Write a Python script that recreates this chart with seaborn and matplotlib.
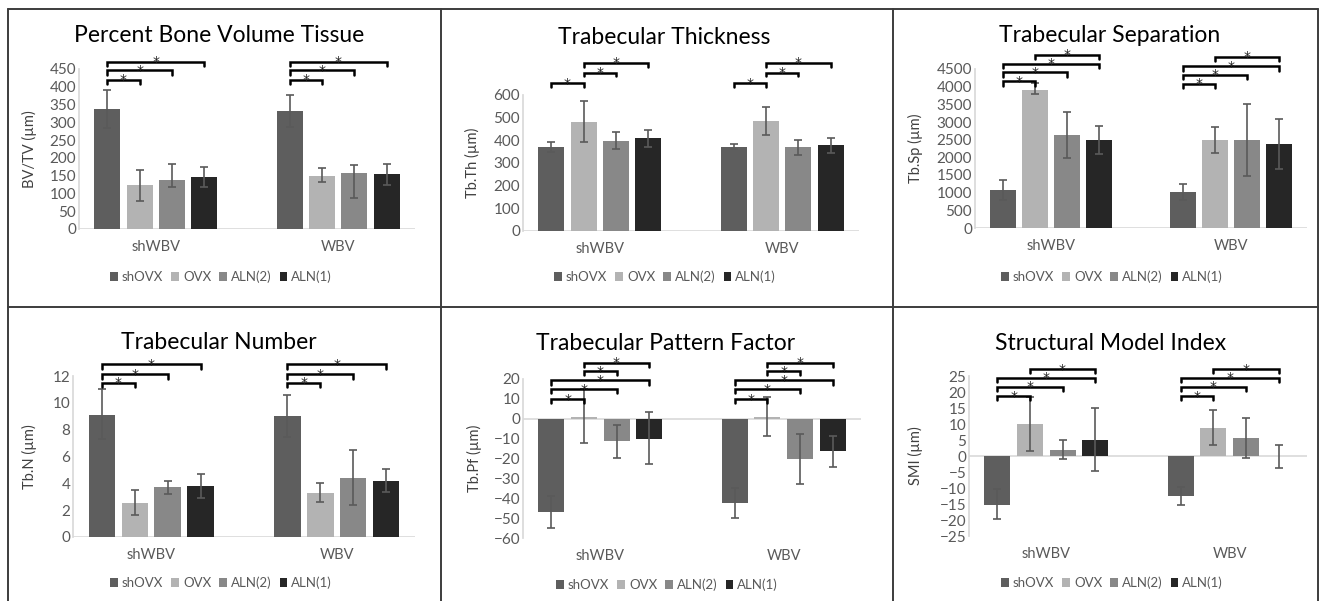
"""
Micro-CT trabecular bone parameters, shWBV vs WBV, six panel figure
"""

# %% --------------------------------------------------------------------------
# Imports
# -----------------------------------------------------------------------------
import numpy as np
import pandas as pd
import matplotlib.pyplot as plt
import seaborn as sns

# %% --------------------------------------------------------------------------
# Data  (8 values per list: shWBV x 4 groups, then WBV x 4 groups)
# -----------------------------------------------------------------------------
sites = ["shWBV", "WBV"]
groups = ["shOVX", "OVX", "ALN(2)", "ALN(1)"]

bvtv_mean = [337, 123, 138, 147, 332, 150, 158, 154]
bvtv_low = [283, 78, 119, 119, 287, 131, 86, 125]
bvtv_high = [392, 167, 184, 175, 378, 171, 179, 184]
# (site, bar a, bar b, bracket level)
bvtv_sig = [(0, 0, 1, 420), (0, 0, 2, 446), (0, 0, 3, 471),
            (1, 0, 1, 420), (1, 0, 2, 446), (1, 0, 3, 471)]

tbth_mean = [370, 480, 398, 411, 370, 486, 370, 381]
tbth_low = [347, 393, 360, 370, 360, 422, 336, 345]
tbth_high = [394, 575, 436, 447, 385, 548, 400, 412]
tbth_sig = [(0, 0, 1, 652), (0, 1, 2, 699), (0, 1, 3, 741),
            (1, 0, 1, 652), (1, 1, 2, 699), (1, 1, 3, 741)]

tbsp_mean = [1075, 3915, 2623, 2490, 1028, 2490, 2490, 2368]
tbsp_low = [792, 3783, 1981, 2094, 792, 2123, 1472, 1670]
tbsp_high = [1358, 4094, 3283, 2877, 1255, 2849, 3509, 3085]
tbsp_sig = [(0, 0, 1, 4149), (0, 0, 2, 4404), (0, 0, 3, 4650), (0, 1, 3, 4905),
            (1, 0, 1, 4075), (1, 0, 2, 4338), (1, 0, 3, 4573), (1, 1, 3, 4839)]

tbn_mean = [9.13, 2.55, 3.69, 3.79, 9.03, 3.29, 4.41, 4.21]
tbn_low = [7.28, 1.61, 3.22, 2.92, 7.43, 2.62, 2.35, 3.34]
tbn_high = [11.06, 3.49, 4.21, 4.70, 10.62, 4.03, 6.46, 5.05]
tbn_sig = [(0, 0, 1, 11.48), (0, 0, 2, 12.12), (0, 0, 3, 12.87),
           (1, 0, 1, 11.48), (1, 0, 2, 12.12), (1, 0, 3, 12.87)]

tbpf_mean = [-46.7, 1.0, -11.3, -10.0, -42.2, 1.0, -20.1, -16.4]
tbpf_low = [-55.0, -12.3, -19.6, -22.9, -49.8, -8.5, -32.6, -24.1]
tbpf_high = [-38.7, 15.1, -3.2, 3.6, -34.7, 11.1, -7.6, -8.6]
tbpf_sig = [(0, 0, 1, 9.8), (0, 0, 2, 14.8), (0, 0, 3, 19.3), (0, 1, 2, 23.9), (0, 1, 3, 28.3),
            (1, 0, 1, 9.8), (1, 0, 2, 14.8), (1, 0, 3, 19.3), (1, 1, 2, 23.9), (1, 1, 3, 28.3)]

smi_mean = [-15.2, 10.1, 1.9, 5.1, -12.6, 8.6, 5.7, 0.0]
smi_low = [-19.7, 1.7, -1.0, -4.8, -15.4, 3.3, -0.5, -3.9]
smi_high = [-10.4, 18.4, 4.9, 15.0, -9.8, 14.3, 12.0, 3.5]
smi_sig = [(0, 0, 1, 18.7), (0, 0, 2, 21.6), (0, 0, 3, 24.4), (0, 1, 3, 27.1),
           (1, 0, 1, 18.7), (1, 0, 2, 21.6), (1, 0, 3, 24.4), (1, 1, 3, 27.1)]

# %% --------------------------------------------------------------------------
# Style / layout
# -----------------------------------------------------------------------------
W, H = 1322, 601
colors = ["#5e5e5e", "#b3b3b3", "#888888", "#262626"]
grey_txt = "#595959"
axis_grey = "#d9d9d9"

panels = [
    dict(title="Percent Bone Volume Tissue", ylabel="BV/TV (µm)",
         data=(bvtv_mean, bvtv_low, bvtv_high, bvtv_sig), ylim=(0, 450), step=50,
         box=(79, 69, 415, 229), title_xy=(219, 35), legend_xy=(221, 277), ylabel_x=37),
    dict(title="Trabecular Thickness", ylabel="Tb.Th (µm)",
         data=(tbth_mean, tbth_low, tbth_high, tbth_sig), ylim=(0, 600), step=100,
         box=(523, 95, 859, 231), title_xy=(664, 37), legend_xy=(665, 277), ylabel_x=480),
    dict(title="Trabecular Separation", ylabel="Tb.Sp (µm)",
         data=(tbsp_mean, tbsp_low, tbsp_high, tbsp_sig), ylim=(0, 4500), step=500,
         box=(975, 69, 1307, 228), title_xy=(1110, 35), legend_xy=(1112, 277), ylabel_x=923),
    dict(title="Trabecular Number", ylabel="Tb.N (µm)",
         data=(tbn_mean, tbn_low, tbn_high, tbn_sig), ylim=(0, 12), step=2,
         box=(73, 376, 415, 537), title_xy=(219, 342), legend_xy=(221, 583), ylabel_x=37),
    dict(title="Trabecular Pattern Factor", ylabel="Tb.Pf (µm)",
         data=(tbpf_mean, tbpf_low, tbpf_high, tbpf_sig), ylim=(-60, 20), step=10,
         box=(523, 379, 861, 538), title_xy=(666, 343), legend_xy=(667, 585), ylabel_x=482),
    dict(title="Structural Model Index", ylabel="SMI (µm)",
         data=(smi_mean, smi_low, smi_high, smi_sig), ylim=(-25, 25), step=5,
         box=(969, 376, 1307, 536), title_xy=(1111, 343), legend_xy=(1112, 583), ylabel_x=923),
]


def fx(x):
    return x / W


def fy(y):
    return 1 - y / H


# %% --------------------------------------------------------------------------
# Panel
# -----------------------------------------------------------------------------
def draw_panel(fig, p):
    x0, y0, x1, y1 = p["box"]
    ax = fig.add_axes([fx(x0), fy(y1), (x1 - x0) / W, (y1 - y0) / H])
    mean, low, high = (np.asarray(v) for v in p["data"][:3])
    sig = p["data"][3]

    df = pd.DataFrame({"site": np.repeat(sites, len(groups)),
                       "group": np.tile(groups, len(sites)),
                       "value": mean})
    sns.barplot(data=df, x="site", y="value", hue="group", order=sites, hue_order=groups,
                palette=colors, width=0.71, gap=0.2, errorbar=None, linewidth=0,
                ax=ax, zorder=2)

    centers = np.array([[b.get_x() + b.get_width() / 2 for b in c] for c in ax.containers])
    xs = centers.T.ravel()
    ax.errorbar(xs, mean, yerr=[mean - low, high - mean], fmt="none", ecolor="#5a5a5a",
                elinewidth=1.2, capsize=3, capthick=1.2, zorder=3)

    ymin, ymax = p["ylim"]
    d = 0.026 * (ymax - ymin)
    for s, a, b, lvl in sig:
        xa, xb = centers[a, s], centers[b, s]
        ax.plot([xa, xa, xb, xb], [lvl - d, lvl, lvl, lvl - d], color="black", lw=1.8,
                clip_on=False, zorder=4, solid_joinstyle="miter")
        ax.annotate("*", ((xa + xb) / 2, lvl), xytext=(0, -3.2), textcoords="offset points",
                    ha="center", va="baseline", fontsize=10, color="#222222",
                    family="DejaVu Sans", annotation_clip=False, zorder=5)

    ax.set_ylim(ymin, ymax)
    ax.set_yticks(np.arange(ymin, ymax + p["step"] / 2, p["step"]))
    ax.axhline(0, color=axis_grey, lw=1.2, zorder=1)
    sns.despine(ax=ax, bottom=True)
    ax.spines["left"].set_color(axis_grey)
    ax.tick_params(axis="both", length=0, labelcolor=grey_txt)
    ax.tick_params(axis="y", pad=2, labelsize=11)
    ax.tick_params(axis="x", pad=8, labelsize=10.5)
    ax.set_xlabel("")
    ax.set_ylabel(p["ylabel"], fontsize=10.5, color="#404040")
    ax.yaxis.set_label_coords((p["ylabel_x"] - x0) / (x1 - x0), 0.5)

    lx, ly = p["legend_xy"]
    sns.move_legend(ax, "center", bbox_to_anchor=(fx(lx), fy(ly)), bbox_transform=fig.transFigure,
                    ncol=4, frameon=False, title=None, fontsize=9.5, labelcolor=grey_txt,
                    handlelength=0.6, handleheight=0.6, handletextpad=0.3, columnspacing=0.6)

    tx, ty = p["title_xy"]
    fig.text(fx(tx), fy(ty), p["title"], ha="center", va="center", fontsize=16.5, color="black")
    return ax


# %% --------------------------------------------------------------------------
# Figure
# -----------------------------------------------------------------------------
sns.set_theme(style="white")
plt.rcParams["font.family"] = ["Lato", "DejaVu Sans"]

fig = plt.figure(figsize=(W / 100, H / 100), dpi=100)
fig.patch.set_facecolor("white")

for p in panels:
    draw_panel(fig, p)

# table-like frame around the six panels
frame = dict(color="#3c3c3c", lw=1.4, transform=fig.transFigure)
for x in [7.5, 441, 892.5, 1317.5]:
    fig.add_artist(plt.Line2D([fx(x), fx(x)], [fy(9), 0], **frame))
for y in [9, 307]:
    fig.add_artist(plt.Line2D([fx(7.5), fx(1317.5)], [fy(y), fy(y)], **frame))

fig.savefig("out.png", dpi=100)
